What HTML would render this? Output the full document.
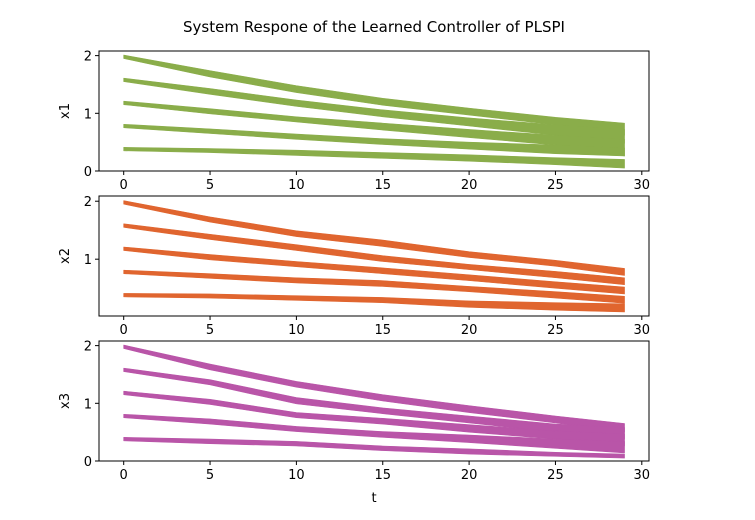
<!DOCTYPE html>
<html><head><meta charset="utf-8"><style>
body{margin:0;background:#fff;}
svg{display:block;font-family:"DejaVu Sans","Liberation Sans",sans-serif;}
</style></head><body>
<svg id="chart" width="755" height="520" xmlns="http://www.w3.org/2000/svg">
<rect width="755" height="520" fill="#fff"/>
<text x="374" y="32" font-size="15" text-anchor="middle">System Respone of the Learned Controller of PLSPI</text>
<g id="plots"></g>
</svg>
<script>
const times=[0,5,10,15,20,25,29];
const xTicks=[0,5,10,15,20,25,30];
const x1Upper=[[2.01,1.74,1.48,1.26,1.09,0.93,0.83],[1.61,1.43,1.23,1.06,0.92,0.8,0.72],[1.21,1.08,0.94,0.83,0.72,0.62,0.55],[0.81,0.73,0.64,0.56,0.5,0.45,0.4],[0.41,0.39,0.36,0.32,0.28,0.23,0.2]];
const x1Lower=[[1.95,1.63,1.36,1.14,0.97,0.8,0.62],[1.55,1.33,1.12,0.94,0.78,0.62,0.48],[1.15,0.99,0.85,0.71,0.58,0.45,0.26],[0.75,0.65,0.55,0.46,0.38,0.3,0.26],[0.35,0.32,0.27,0.22,0.17,0.11,0.05]];
const x2Upper=[[2.01,1.73,1.49,1.33,1.13,0.98,0.84],[1.61,1.43,1.25,1.06,0.91,0.79,0.68],[1.21,1.08,0.96,0.85,0.73,0.61,0.52],[0.81,0.75,0.68,0.63,0.53,0.44,0.36],[0.41,0.4,0.37,0.34,0.28,0.25,0.23]];
const x2Lower=[[1.95,1.64,1.39,1.22,1.03,0.88,0.72],[1.55,1.34,1.15,0.96,0.82,0.68,0.56],[1.15,0.99,0.87,0.75,0.63,0.5,0.4],[0.75,0.67,0.59,0.53,0.44,0.33,0.24],[0.35,0.33,0.29,0.25,0.17,0.12,0.09]];
const x3Upper=[[2.01,1.68,1.38,1.15,0.96,0.78,0.65],[1.61,1.41,1.1,0.92,0.78,0.64,0.58],[1.21,1.07,0.84,0.74,0.63,0.52,0.47],[0.81,0.73,0.6,0.51,0.45,0.38,0.34],[0.41,0.38,0.34,0.26,0.21,0.15,0.12]];
const x3Lower=[[1.95,1.58,1.28,1.04,0.84,0.66,0.5],[1.55,1.32,0.99,0.82,0.66,0.5,0.38],[1.15,0.98,0.75,0.64,0.5,0.38,0.26],[0.75,0.64,0.51,0.41,0.32,0.22,0.14],[0.35,0.3,0.26,0.18,0.12,0.08,0.05]];
const panels=[
 {name:'x1',upper:x1Upper,lower:x1Lower,color:'#8aad4a',top:51,bottom:171,ymin:0,ymax:2.08,yTicks:[0,1,2]},
 {name:'x2',upper:x2Upper,lower:x2Lower,color:'#e0652f',top:196,bottom:316,ymin:0.02,ymax:2.09,yTicks:[1,2]},
 {name:'x3',upper:x3Upper,lower:x3Lower,color:'#b955a8',top:341,bottom:461,ymin:0,ymax:2.08,yTicks:[0,1,2]}
];
const L=99,R=649;
const xs=t=>123.7+t*17.27;
const NS='http://www.w3.org/2000/svg';
const g=document.getElementById('plots');
function mk(tag,attrs,parent){const e=document.createElementNS(NS,tag);for(const k in attrs)e.setAttribute(k,attrs[k]);(parent||g).appendChild(e);return e;}
panels.forEach((p,pi)=>{
 const ys=v=>p.bottom-(v-p.ymin)/(p.ymax-p.ymin)*(p.bottom-p.top);
 const grp=mk('g',{});
 
 
 p.upper.forEach((up,i)=>{
  const lo=p.lower[i];
  let pts=times.map((t,j)=>xs(t)+','+ys(up[j]));
  pts=pts.concat(times.slice().reverse().map((t,j)=>xs(t)+','+ys(lo[lo.length-1-j])));
  const poly=mk('polygon',{points:pts.join(' '),fill:p.color,stroke:p.color,'stroke-width':0.6,'stroke-linejoin':'round'},grp);
  
  
 });
 const frame=mk('rect',{x:L,y:p.top,width:R-L,height:p.bottom-p.top,fill:'none',stroke:'#000','stroke-width':1},grp);
 
 
 xTicks.forEach(t=>{
  mk('line',{x1:xs(t),x2:xs(t),y1:p.bottom,y2:p.bottom+4,stroke:'#000'},grp);
  const tx=mk('text',{x:xs(t),y:p.bottom+18,'font-size':13,'text-anchor':'middle'},grp);
  tx.textContent=t;
  
  
 });
 p.yTicks.forEach(v=>{
  mk('line',{x1:L-4,x2:L,y1:ys(v),y2:ys(v),stroke:'#000'},grp);
  const tx=mk('text',{x:L-7,y:ys(v)+5,'font-size':13,'text-anchor':'end'},grp);
  tx.textContent=v;
  
  
 });
 const yl=mk('text',{x:0,y:0,'font-size':13,'text-anchor':'middle',transform:'translate(69,'+((p.top+p.bottom)/2)+') rotate(-90)'},grp);
 yl.textContent=p.name;
 
 
});
const xl=mk('text',{x:374,y:502,'font-size':13,'text-anchor':'middle'});
xl.textContent='t';


</script>
</body></html>
